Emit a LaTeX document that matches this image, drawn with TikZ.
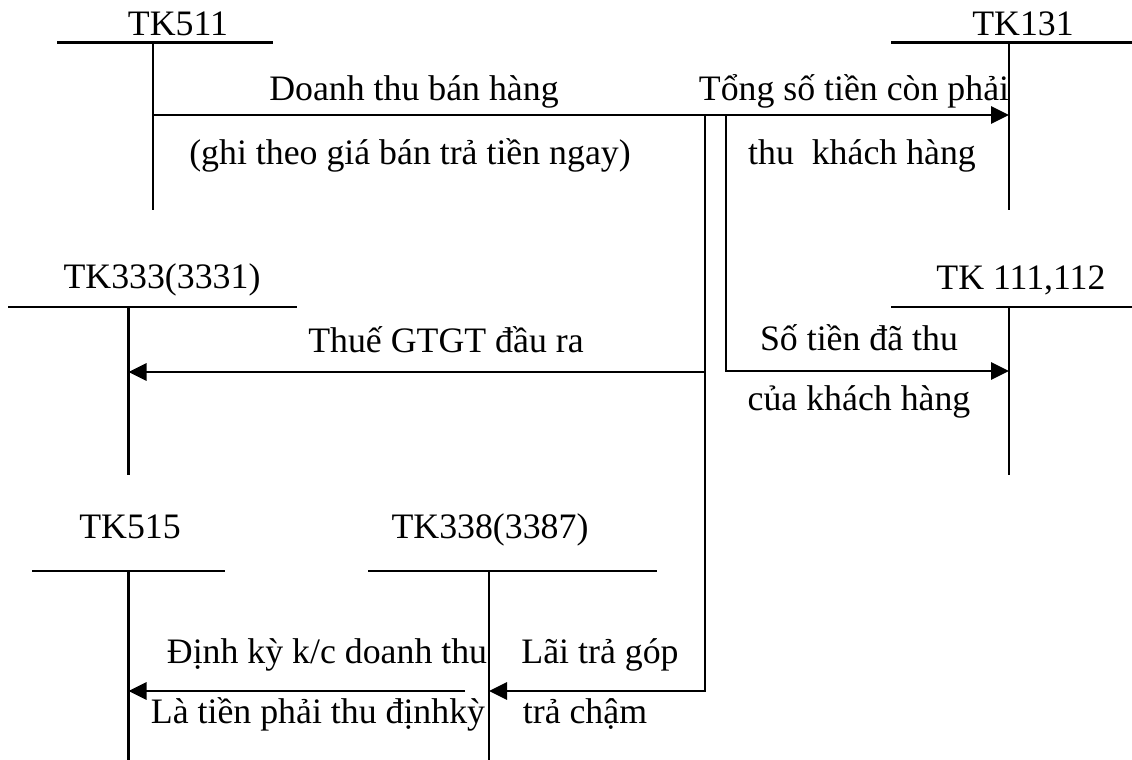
\documentclass[tikz,border=0pt]{standalone}
\usepackage{fontspec}
\setmainfont{Liberation Serif}
\usetikzlibrary{arrows.meta}
\begin{document}
\begin{tikzpicture}[x=0.5pt,y=-0.5pt, line width=1.2pt,
  lbl/.style={anchor=base, inner sep=0pt, font=\fontsize{17.9}{20}\selectfont},
  flow/.style={-{Triangle[length=9pt,width=8.6pt]}}]
\useasboundingbox (0,0) rectangle (1132,760);

% ---- T-accounts: title, top bar, vertical stem ----
% TK511
\node[lbl] (t511) at (178,35) {TK511};
\coordinate (b511L) at (57,42.5);  \coordinate (b511R) at (273,42.5);
\coordinate (s511T) at (153,42.5); \coordinate (s511B) at (153,210);
\draw (b511L) -- (b511R); \draw (s511T) -- (s511B);

% TK131
\node[lbl] (t131) at (1023,35) {TK131};
\coordinate (b131L) at (891,42.5);  \coordinate (b131R) at (1132,42.5);
\coordinate (s131T) at (1009,42.5); \coordinate (s131B) at (1009,210);
\draw (b131L) -- (b131R); \draw (s131T) -- (s131B);

% TK333(3331)
\node[lbl] (t333) at (162,288) {TK333(3331)};
\coordinate (b333L) at (8,307);    \coordinate (b333R) at (297,307);
\coordinate (s333T) at (128.5,307); \coordinate (s333B) at (128.5,475);
\draw (b333L) -- (b333R); \draw (s333T) -- (s333B);

% TK 111,112
\node[lbl] (t111) at (1021,289) {TK 111,112};
\coordinate (b111L) at (891,307);  \coordinate (b111R) at (1132,307);
\coordinate (s111T) at (1009,307); \coordinate (s111B) at (1009,475);
\draw (b111L) -- (b111R); \draw (s111T) -- (s111B);

% TK515
\node[lbl] (t515) at (130,538) {TK515};
\coordinate (b515L) at (32,571);    \coordinate (b515R) at (225,571);
\coordinate (s515T) at (128.5,571); \coordinate (s515B) at (128.5,760);
\draw (b515L) -- (b515R); \draw (s515T) -- (s515B);

% TK338(3387)
\node[lbl] (t338) at (490,538) {TK338(3387)};
\coordinate (b338L) at (368,571);  \coordinate (b338R) at (657,571);
\coordinate (s338T) at (489,571);  \coordinate (s338B) at (489,760);
\draw (b338L) -- (b338R); \draw (s338T) -- (s338B);

% ---- entries ----
\coordinate (r511) at (153,115);
\coordinate (r131) at (1009,115);
\coordinate (r333) at (128.5,372);
\coordinate (r111) at (1009,371);
\coordinate (r338) at (489,691);
\coordinate (r515) at (128.5,691);
\coordinate (k1) at (705,115);
\coordinate (k1m) at (705,372);
\coordinate (k1b) at (705,691);
\coordinate (k2) at (726,115);
\coordinate (o338) at (465,691);

\draw[flow] (r511) -- (r131);
\draw[flow] (k1m) -- (r333);
\draw[flow] (k1) -- (k1b) -- (r338);
\draw[flow] (k2) |- (r111);
\draw[flow] (o338) -- (r515);

% ---- entry labels ----
\node[lbl] (l1) at (414,100) {Doanh thu bán hàng};
\node[lbl] (l2) at (410,164) {(ghi theo giá bán trả tiền ngay)};
\node[lbl] (l3) at (854,100) {Tổng số tiền còn phải};
\node[lbl] (l4) at (862,164) {thu\ \ khách hàng};
\node[lbl] (l5) at (446,352) {Thuế GTGT đầu ra};
\node[lbl] (l6) at (859,350) {Số tiền đã thu};
\node[lbl] (l7) at (859,410) {của khách hàng};
\node[lbl] (l8) at (327,663) {Định kỳ k/c doanh thu};
\node[lbl] (l9) at (318,723) {Là tiền phải thu địnhkỳ};
\node[lbl] (l10) at (600,663) {Lãi trả góp};
\node[lbl] (l11) at (585,723) {trả chậm};
\end{tikzpicture}
\end{document}
